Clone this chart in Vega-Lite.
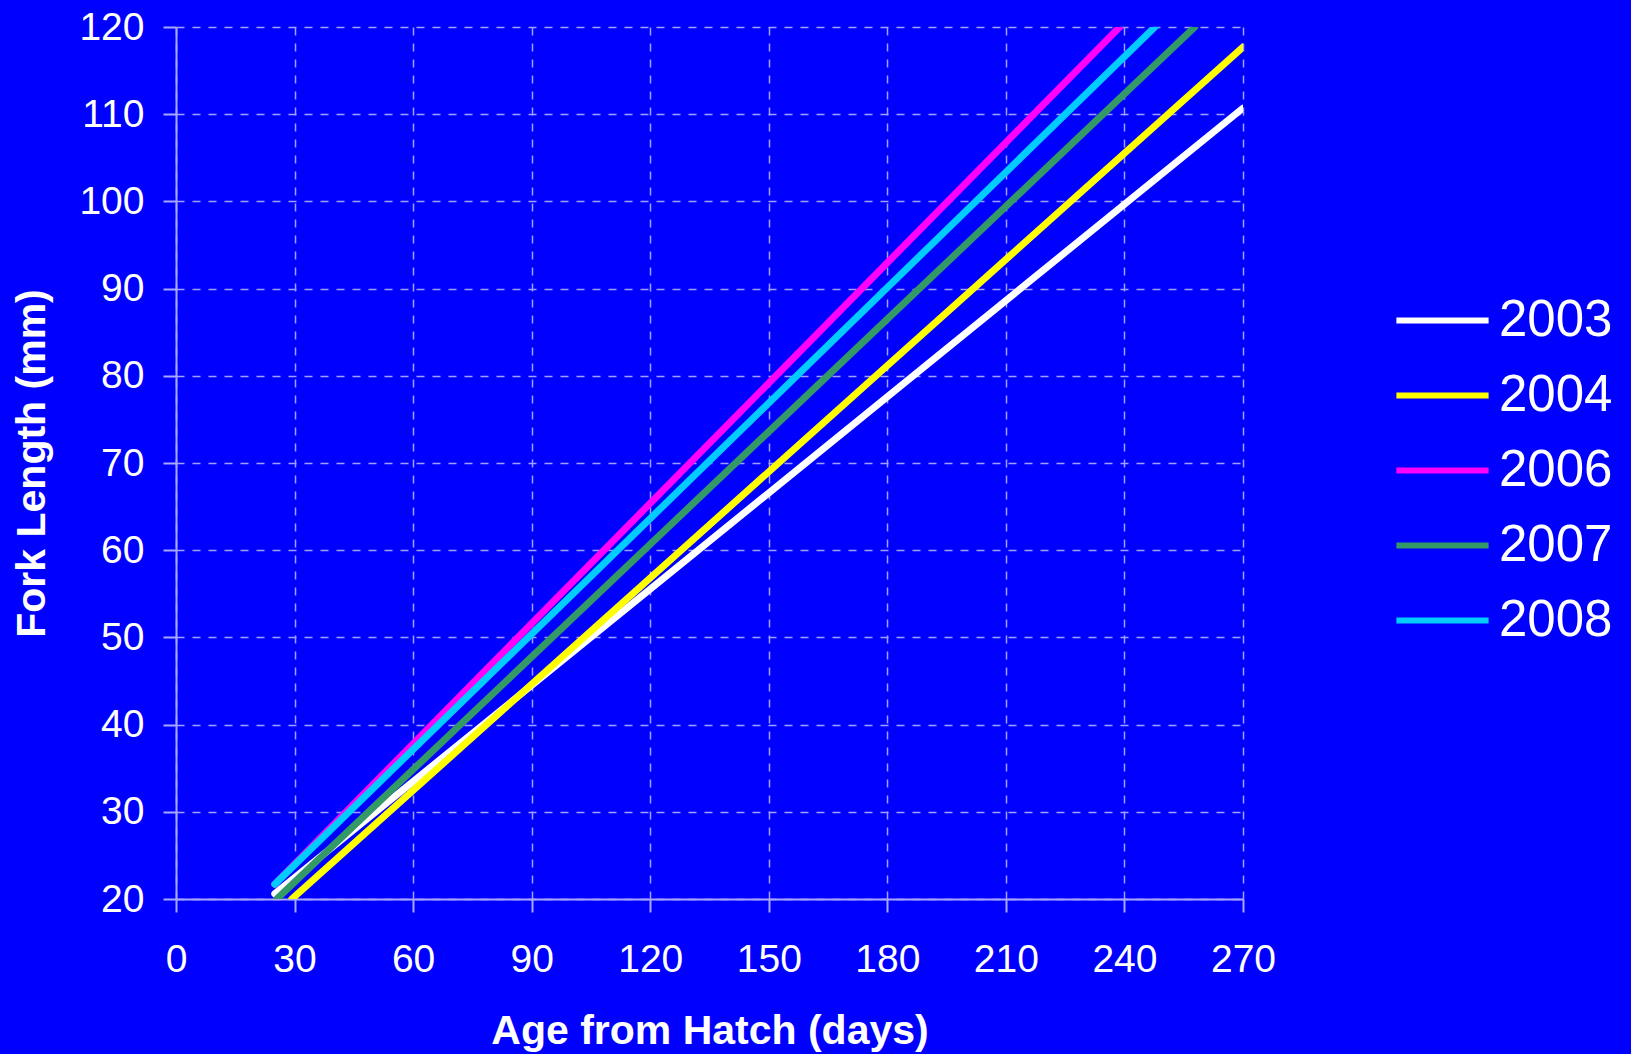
{
  "$schema": "https://vega.github.io/schema/vega-lite/v6.json",
  "width": 1067,
  "height": 872,
  "autosize": {"type": "none"},
  "padding": {"left": 176, "top": 27, "right": 388, "bottom": 155},
  "background": "#0000ff",
  "config": {
    "view": {"stroke": null},
    "font": "Liberation Sans",
    "axis": {
      "labelFont": "Liberation Sans",
      "labelFontSize": 39,
      "labelColor": "#ffffff",
      "titleFont": "Liberation Sans",
      "titleFontSize": 41,
      "titleFontWeight": "bold",
      "titleColor": "#ffffff",
      "domainColor": "#a8a8ff",
      "domainWidth": 2,
      "tickColor": "#a8a8ff",
      "tickWidth": 2,
      "tickSize": 13,
      "gridColor": "#a0a0ff",
      "gridWidth": 1.5,
      "gridDash": [8, 8],
      "labelFlush": false
    },
    "legend": {
      "labelFont": "Liberation Sans",
      "labelFontSize": 51,
      "labelColor": "#ffffff"
    }
  },
  "data": {
    "values": [
      {"year": "2003", "age": 25, "fl": 20.6},
      {"year": "2003", "age": 270, "fl": 110.7},
      {"year": "2004", "age": 29.3, "fl": 20},
      {"year": "2004", "age": 270, "fl": 117.7},
      {"year": "2006", "age": 25, "fl": 21.7},
      {"year": "2006", "age": 238.8, "fl": 120},
      {"year": "2007", "age": 25.5, "fl": 20},
      {"year": "2007", "age": 257.8, "fl": 120},
      {"year": "2008", "age": 25, "fl": 21.7},
      {"year": "2008", "age": 247.7, "fl": 120}
    ]
  },
  "mark": {"type": "line", "strokeWidth": 7, "strokeCap": "round", "clip": true},
  "encoding": {
    "x": {
      "field": "age",
      "type": "quantitative",
      "scale": {"domain": [0, 270], "nice": false, "zero": true},
      "axis": {
        "values": [0, 30, 60, 90, 120, 150, 180, 210, 240, 270],
        "title": "Age from Hatch (days)",
        "labelPadding": 28,
        "titlePadding": 32
      }
    },
    "y": {
      "field": "fl",
      "type": "quantitative",
      "scale": {"domain": [20, 120], "nice": false, "zero": false},
      "axis": {
        "values": [20, 30, 40, 50, 60, 70, 80, 90, 100, 110, 120],
        "title": "Fork Length (mm)",
        "labelPadding": 19,
        "titlePadding": 25
      }
    },
    "color": {
      "field": "year",
      "type": "nominal",
      "scale": {
        "domain": ["2003", "2004", "2006", "2007", "2008"],
        "range": ["#ffffff", "#ffff00", "#ff00ff", "#339966", "#00ccff"]
      },
      "legend": {
        "title": null,
        "orient": "none",
        "legendX": 1217,
        "legendY": 244,
        "symbolType": "stroke",
        "symbolSize": 8500,
        "symbolStrokeWidth": 6,
        "labelOffset": 7,
        "rowPadding": -17
      }
    }
  }
}
